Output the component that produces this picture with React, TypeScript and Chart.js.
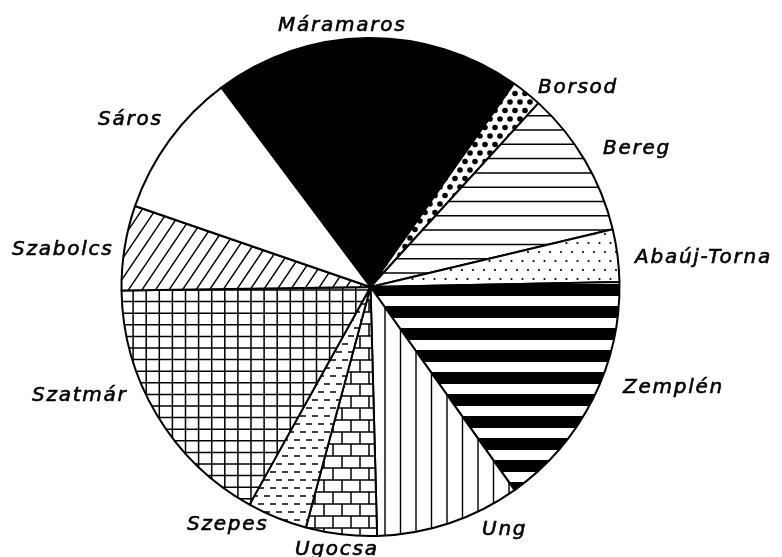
import React, { useEffect, useRef } from 'react';
import { Chart, registerables } from 'chart.js';

Chart.register(...registerables);

// ---- data (clockwise from the top, Máramaros first) ----
const categories = ['Máramaros', 'Borsod', 'Bereg', 'Abaúj-Torna', 'Zemplén', 'Ung', 'Ugocsa', 'Szepes', 'Szatmár', 'Szabolcs', 'Sáros'];
const shares = [20.0, 2.0, 9.5, 3.4, 15.5, 9.4, 4.6, 3.9, 16.7, 5.5, 9.5];

// ---- layout (label text positions: left x, baseline y) ----
const labelX = [278, 538, 603, 635, 623, 482, 295, 187, 32, 12, 98];
const labelY = [31, 93, 154, 263, 393, 535, 555, 530, 401, 255, 125];

const W = 782;
const H = 557;

type Painter = (g: CanvasRenderingContext2D) => void;

function paintCanvas(draw: Painter | null, solid?: string): HTMLCanvasElement {
  const c = document.createElement('canvas');
  c.width = W;
  c.height = H;
  const g = c.getContext('2d')!;
  g.fillStyle = solid || '#fff';
  g.fillRect(0, 0, W, H);
  g.fillStyle = '#000';
  g.strokeStyle = '#000';
  if (draw) draw(g);
  return c;
}

const hLines = (start: number, step: number, lw: number): Painter => (g) => {
  g.lineWidth = lw;
  g.beginPath();
  for (let y = start - step * 100; y < H; y += step) {
    if (y < 0) continue;
    g.moveTo(0, y);
    g.lineTo(W, y);
  }
  g.stroke();
};

const vLines = (start: number, step: number, lw: number): Painter => (g) => {
  g.lineWidth = lw;
  g.beginPath();
  for (let x = start - step * 100; x < W; x += step) {
    if (x < 0) continue;
    g.moveTo(x, 0);
    g.lineTo(x, H);
  }
  g.stroke();
};

const grid = (x0: number, dx: number, y0: number, dy: number, lw: number): Painter => (g) => {
  hLines(y0, dy, lw)(g);
  vLines(x0, dx, lw)(g);
};

const stripes = (start: number, period: number, thick: number): Painter => (g) => {
  for (let y = start - period * 100; y < H; y += period) {
    if (y + thick < 0) continue;
    g.fillRect(0, y, W, thick);
  }
};

const diag = (angleDeg: number, dx: number, lw: number): Painter => (g) => {
  const t = Math.tan((angleDeg * Math.PI) / 180);
  const run = H / t;
  g.lineWidth = lw;
  g.beginPath();
  for (let x = -run - dx; x < W + dx; x += dx) {
    g.moveTo(x, H);
    g.lineTo(x + run, 0);
  }
  g.stroke();
};

const dots = (dx: number, dy: number, r: number): Painter => (g) => {
  let row = 0;
  for (let y = 0; y < H + dy; y += dy, row++) {
    const off = row % 2 ? dx / 2 : 0;
    for (let x = off; x < W + dx; x += dx) {
      g.beginPath();
      g.arc(x, y, r, 0, Math.PI * 2);
      g.fill();
    }
  }
};

const bricks = (bw: number, bh: number, lw: number): Painter => (g) => {
  g.lineWidth = lw;
  g.beginPath();
  let row = 0;
  for (let y = 0; y < H; y += bh, row++) {
    g.moveTo(0, y);
    g.lineTo(W, y);
    const off = row % 2 ? bw / 2 : 0;
    for (let x = off; x < W; x += bw) {
      g.moveTo(x, y);
      g.lineTo(x, y + bh);
    }
  }
  g.stroke();
};

const dashes = (dx: number, dy: number, len: number, lw: number): Painter => (g) => {
  g.lineWidth = lw;
  g.beginPath();
  let row = 0;
  for (let y = 0; y < H; y += dy, row++) {
    const off = row % 2 ? dx / 2 : 0;
    for (let x = off; x < W; x += dx) {
      g.moveTo(x, y);
      g.lineTo(x + len, y);
    }
  }
  g.stroke();
};

export default function App() {
  const ref = useRef<HTMLCanvasElement | null>(null);

  useEffect(() => {
    const canvas = ref.current;
    if (!canvas) return;
    const ctx = canvas.getContext('2d')!;

    const painters: (Painter | null)[] = [
      null, // Máramaros solid black
      dots(10, 8.5, 2.8), // Borsod
      hLines(130, 14.3, 1.5), // Bereg
      dots(11, 9, 1.1), // Abaúj-Torna
      stripes(284, 22, 12), // Zemplén
      vLines(385, 15.5, 1.4), // Ung
      bricks(18, 12, 1.5), // Ugocsa
      dashes(12, 8, 6, 1.5), // Szepes
      grid(120, 13.1, 290, 11.6, 1.5), // Szatmár
      diag(56, 13.5, 1.4), // Szabolcs
      null, // Sáros white
    ];
    const fills = painters.map((p, i) => {
      if (i === 0) return ctx.createPattern(paintCanvas(null, '#000'), 'no-repeat')!;
      return ctx.createPattern(paintCanvas(p), 'no-repeat')!;
    });

    const labelPlugin = {
      id: 'sliceLabels',
      afterDraw(chart: any) {
        const c = chart.ctx as CanvasRenderingContext2D;
        c.save();
        c.fillStyle = '#000';
        c.strokeStyle = '#000';
        c.lineWidth = 0.6;
        c.font = 'italic 20px "DejaVu Sans"';
        (c as any).letterSpacing = '1.75px';
        c.textAlign = 'left';
        c.textBaseline = 'alphabetic';
        categories.forEach((name, i) => {
          c.fillText(name, labelX[i], labelY[i]);
          c.strokeText(name, labelX[i], labelY[i]);
        });
        c.restore();
      },
    };

    const chart = new Chart(canvas, {
      type: 'pie',
      data: {
        labels: categories,
        datasets: [
          {
            data: shares,
            backgroundColor: fills as any,
            borderColor: '#000',
            borderWidth: 2,
            hoverOffset: 0,
          },
        ],
      },
      options: {
        responsive: false,
        animation: false,
        events: [],
        rotation: -36.8,
        radius: 249,
        layout: { padding: { left: 0, right: 41, top: 17, bottom: 0 } },
        plugins: {
          legend: { display: false },
          tooltip: { enabled: false },
        },
      } as any,
      plugins: [labelPlugin],
    });

    return () => chart.destroy();
  }, []);

  return (
    <div style={{ position: 'fixed', left: 0, top: 0, width: W, height: H, background: '#fff' }}>
      <canvas ref={ref} width={W} height={H} style={{ display: 'block' }} />
    </div>
  );
}
